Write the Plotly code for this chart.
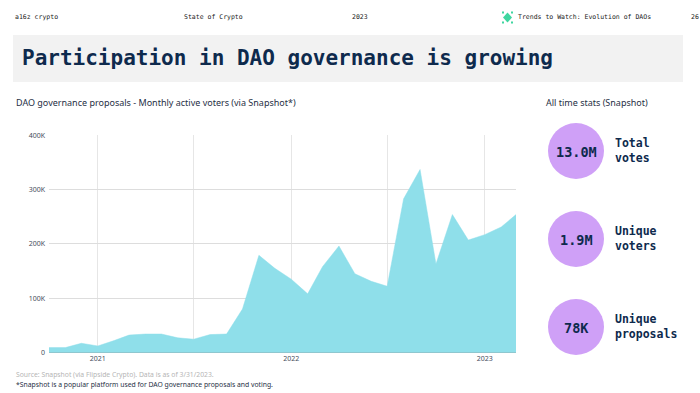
import plotly.graph_objects as go

months = ["2020-10-01","2020-11-01","2020-12-01",
 "2021-01-01","2021-02-01","2021-03-01","2021-04-01","2021-05-01","2021-06-01",
 "2021-07-01","2021-08-01","2021-09-01","2021-10-01","2021-11-01","2021-12-01",
 "2022-01-01","2022-02-01","2022-03-01","2022-04-01","2022-05-01","2022-06-01",
 "2022-07-01","2022-08-01","2022-09-01","2022-10-01","2022-11-01","2022-12-01",
 "2023-01-01","2023-02-01","2023-03-01"]
voters = [9000,9000,17000,12000,22000,32000,34000,34000,27000,24500,33000,34000,
 80000,179000,155000,135000,108000,158000,196000,145000,131000,122000,283000,337000,
 163000,254000,207000,217000,231000,254000]
x_ticks = ["2021-01-01","2021-07-01","2022-01-01","2022-07-01","2023-01-01"]
x_labels = ["2021","","2022","","2023"]
y_ticks = [0,100000,200000,300000,400000]
y_labels = ["0","100K","200K","300K","400K"]
stat_values = ["13.0M","1.9M","78K"]
stat_names = ["Total<br>votes","Unique<br>voters","Unique<br>proposals"]
header_items = ["a16z crypto","State of Crypto","2023","Trends to Watch: Evolution of DAOs","26"]

W, H = 700, 393
NAVY = "#0e2a4d"
MONO = "'DejaVu Sans Mono', monospace"
SANS = "'Noto Sans', 'Open Sans', sans-serif"
px = lambda v: v / W
py = lambda v: 1 - v / H

fig = go.Figure(go.Scatter(x=months, y=voters, mode="lines", fill="tozeroy",
    fillcolor="#8fdfea", line=dict(color="#8fdfea", width=0.5),
    hoverinfo="skip", showlegend=False))

shapes = [
    dict(type="rect", xref="paper", yref="paper", x0=px(13), x1=px(683), y0=py(82), y1=py(35),
         fillcolor="#f2f2f2", line_width=0, layer="below"),
    dict(type="path", xref="paper", yref="paper",
         path=f"M {px(507.5)} {py(12.5)} L {px(512)} {py(17.5)} L {px(507.5)} {py(22.5)} L {px(503)} {py(17.5)} Z",
         fillcolor="#3fd6a0", line_width=0),
    dict(type="line", xref="paper", yref="paper", x0=px(49), x1=px(516), y0=py(352.5), y1=py(352.5),
         line=dict(color="#8fc7cf", width=1)),
]
for cx in (503, 512):
    for cy in (12.5, 22.5):
        shapes.append(dict(type="rect", xref="paper", yref="paper",
            x0=px(cx - 1), x1=px(cx + 1), y0=py(cy + 1), y1=py(cy - 1),
            fillcolor="#3fd6a0", line_width=0))
ann = []
def text(x, y, s, size, color=NAVY, font=SANS, anchor="left", bold=False):
    ann.append(dict(xref="paper", yref="paper", x=px(x), y=py(y), text=f"<b>{s}</b>" if bold else s,
                    showarrow=False, xanchor=anchor, yanchor="middle", align="left",
                    font=dict(size=size, color=color, family=font)))

for x, s in zip([13, 182, 350, 516, 689], header_items):
    text(x, 17, s, 6.5, color="#222222", font=MONO)
text(20, 57.5, "Participation in DAO governance is growing", 21, font=MONO, bold=True)
text(14, 103, "DAO governance proposals - Monthly active voters (via Snapshot*)", 9, color="#1f2f45")
text(544, 103, "All time stats (Snapshot)", 9, color="#1f2f45")
text(14, 374.5, "Source: Snapshot (via Flipside Crypto). Data is as of 3/31/2023.", 6.8, color="#b5b5b5")
text(14, 384, "*Snapshot is a popular platform used for DAO governance proposals and voting.", 6.8, color="#1f2f45")

for cy, v, n in zip([151, 239, 327], stat_values, stat_names):
    shapes.append(dict(type="circle", xref="paper", yref="paper",
        x0=px(548), x1=px(604), y0=py(cy - 28), y1=py(cy + 28),
        fillcolor="#cfa0f7", line_width=0, layer="below"))
    text(576, cy + 1, v, 13.5, font=MONO, anchor="center", bold=True)
    text(613, cy - 0.5, n, 11.5, font=MONO, bold=True)

fig.update_layout(
    width=W, height=H, margin=dict(l=0, r=0, t=0, b=0, autoexpand=False),
    paper_bgcolor="white", plot_bgcolor="white",
    shapes=shapes, annotations=ann,
    xaxis=dict(domain=[px(49), px(516)], type="date", range=["2020-10-01","2023-03-01"],
        tickmode="array", tickvals=x_ticks, ticktext=x_labels, showgrid=True, automargin=False,
        gridcolor="#e6e6e6", gridwidth=1, zeroline=False, showline=False, ticks="",
        tickfont=dict(size=7, color="#444c5a", family=SANS)),
    yaxis=dict(domain=[py(352.5), py(135.3)], range=[0, 400000], tickmode="array", automargin=False,
        tickvals=y_ticks, ticktext=y_labels, showgrid=True, gridcolor="#dddddd", gridwidth=1,
        zeroline=False, showline=False, ticks="", ticklabelstandoff=3,
        tickfont=dict(size=7, color="#444c5a", family=SANS)),
)
fig.write_html("out.html", config={"displayModeBar": False},
               post_script="document.body.style.margin='0';document.body.style.overflow='hidden';")
